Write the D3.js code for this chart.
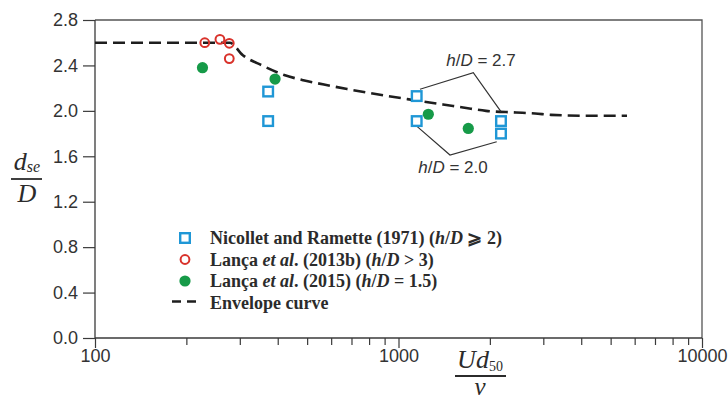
<!DOCTYPE html>
<html>
<head>
<meta charset="utf-8">
<script src="https://cdn.jsdelivr.net/npm/d3@7"></script>
<style>
  html, body { margin: 0; padding: 0; background: #fff; }
  svg { display: block; }
</style>
</head>
<body>
<svg id="chart" width="728" height="403"></svg>
<script>
// Nicollet and Ramette (1971): [Ud50/nu, dse/D]
const nicolletRe = [372, 372, 1148, 1148, 2176, 2176];
const nicolletD  = [2.17, 1.91, 2.13, 1.91, 1.91, 1.80];
// Lança et al. (2013b)
const lanca2013Re = [230, 258, 277, 277];
const lanca2013D  = [2.60, 2.63, 2.595, 2.46];
// Lança et al. (2015)
const lanca2015Re = [226, 392, 1254, 1698];
const lanca2015D  = [2.38, 2.28, 1.97, 1.845];
// Envelope curve
const envRe = [100, 278, 307, 355, 420, 481, 568, 677, 782, 1116, 1402, 1632, 1943, 2438, 2818, 3181, 4116, 5660];
const envD  = [2.60, 2.60, 2.49, 2.40, 2.316, 2.272, 2.232, 2.192, 2.162, 2.096, 2.056, 2.030, 2.000, 1.986, 1.977, 1.965, 1.957, 1.957];
// h/D bracket outlines
const bracket27Re = [1177, 1764, 2176];
const bracket27D  = [2.19, 2.336, 1.993];
const bracket20Re = [1153, 1478, 2107];
const bracket20D  = [1.861, 1.611, 1.728];
// Axis ticks
const yTicks = [0, 0.4, 0.8, 1.2, 1.6, 2.0, 2.4, 2.8];
const xMajor = [100, 1000, 10000];
const xMinor = [200, 300, 400, 500, 600, 700, 800, 900, 2000, 3000, 4000, 5000, 6000, 7000, 8000, 9000];

const svg = d3.select("#chart");
const L = 95, R = 702, T = 20, B = 338;
const x = d3.scaleLog().domain([100, 10000]).range([L, R]);
const y = d3.scaleLinear().domain([0, 2.8]).range([B, T]);

const axisColor = "#3a3a3a";
const tickFont = "'Liberation Sans', Arial, sans-serif";

// Frame (top and right)
svg.append("path")
  .attr("d", d3.line()([[x(100), y(2.8)], [x(10000), y(2.8)], [x(10000), y(0)]]))
  .attr("fill", "none").attr("stroke", "#555").attr("stroke-width", 1.3);

// Y axis
const yAxis = svg.append("g").attr("transform", `translate(${L},0)`)
  .call(d3.axisLeft(y).tickValues(yTicks).tickFormat(d3.format(".1f")).tickSize(12).tickPadding(5));
yAxis.selectAll("text").attr("font-family", tickFont).attr("font-size", 18).attr("fill", "#333");

// X axis
const xAxis = svg.append("g").attr("transform", `translate(0,${B})`)
  .call(d3.axisBottom(x).tickValues(xMajor.concat(xMinor))
    .tickFormat(d => xMajor.includes(d) ? d3.format("d")(d) : "").tickSize(10).tickPadding(1));
xAxis.selectAll(".tick").filter(d => !xMajor.includes(d)).select("line").attr("y2", 7);
xAxis.selectAll("text").attr("font-family", tickFont).attr("font-size", 18).attr("fill", "#333");

[yAxis, xAxis].forEach(a => {
  a.select(".domain").attr("stroke", axisColor).attr("stroke-width", 1.3);
  a.selectAll(".tick line").attr("stroke", axisColor).attr("stroke-width", 1.2);
});
yAxis.select(".domain").attr("d", `M0,${B}V${T}`);
xAxis.select(".domain").attr("d", `M${L},0H${R}`);

// Envelope curve
const envPts = envRe.map((r, i) => [x(r), y(envD[i])]);
svg.append("path")
  .attr("d", d3.line().curve(d3.curveMonotoneX)(envPts))
  .attr("fill", "none").attr("stroke", "#1e1e1e").attr("stroke-width", 2.6)
  .attr("stroke-dasharray", "12,6");

// Bracket outlines
[[bracket27Re, bracket27D], [bracket20Re, bracket20D]].forEach(([rs, ds]) => {
  svg.append("path")
    .attr("d", d3.line()(rs.map((r, i) => [x(r), y(ds[i])])))
    .attr("fill", "none").attr("stroke", "#333").attr("stroke-width", 1.2);
});

// Bracket labels
const annot = [
  { re: 1870, d: 2.395, val: "2.7" },
  { re: 1512, d: 1.455, val: "2.0" }
];
annot.forEach(a => {
  const t = svg.append("text").attr("x", x(a.re)).attr("y", y(a.d))
    .attr("text-anchor", "middle").attr("font-family", tickFont)
    .attr("font-size", 17).attr("fill", "#333");
  t.append("tspan").attr("font-style", "italic").text("h");
  t.append("tspan").text("/");
  t.append("tspan").attr("font-style", "italic").text("D");
  t.append("tspan").text(" = " + a.val);
});

const blue = "#1f97d6", red = "#d9322b", green = "#169a48";

// Nicollet and Ramette squares
svg.append("g").selectAll("rect").data(nicolletRe).join("rect")
  .attr("x", (d, i) => x(d) - 4.8).attr("y", (d, i) => y(nicolletD[i]) - 4.8)
  .attr("width", 9.6).attr("height", 9.6)
  .attr("fill", "#fff").attr("stroke", blue).attr("stroke-width", 2.4);

// Lança 2013b open circles
svg.append("g").selectAll("circle").data(lanca2013Re).join("circle")
  .attr("cx", d => x(d)).attr("cy", (d, i) => y(lanca2013D[i])).attr("r", 4.4)
  .attr("fill", "none").attr("stroke", red).attr("stroke-width", 2);

// Lança 2015 filled circles
svg.append("g").selectAll("circle").data(lanca2015Re).join("circle")
  .attr("cx", d => x(d)).attr("cy", (d, i) => y(lanca2015D[i])).attr("r", 5.6)
  .attr("fill", green);

// Legend
const lg = svg.append("g").attr("transform", "translate(185,238)");
const serif = "'Liberation Serif', 'Times New Roman', serif";
const rows = [
  [["Nicollet and Ramette (1971) (", ""], ["h", "italic"], ["/", ""], ["D", "italic"], [" \u2A7E 2)", ""]],
  [["Lança ", ""], ["et al", "italic"], [". (2013b) (", ""], ["h", "italic"], ["/", ""], ["D", "italic"], [" > 3)", ""]],
  [["Lança ", ""], ["et al", "italic"], [". (2015) (", ""], ["h", "italic"], ["/", ""], ["D", "italic"], [" = 1.5)", ""]],
  [["Envelope curve", ""]]
];
const rowH = 21.5;
rows.forEach((parts, i) => {
  const t = lg.append("text").attr("x", 25).attr("y", i * rowH + 6)
    .attr("font-family", serif).attr("font-weight", "bold").attr("font-size", 18).attr("fill", "#2b2b2b");
  parts.forEach(([s, st]) => {
    const sp = t.append("tspan").text(s);
    if (st) sp.attr("font-style", st);
  });
});
lg.append("rect").attr("x", -4.8).attr("y", -4.8).attr("width", 9.6).attr("height", 9.6)
  .attr("fill", "#fff").attr("stroke", blue).attr("stroke-width", 2.4);
lg.append("circle").attr("cx", 0).attr("cy", rowH).attr("r", 4.4)
  .attr("fill", "none").attr("stroke", red).attr("stroke-width", 2);
lg.append("circle").attr("cx", 0).attr("cy", 2 * rowH).attr("r", 5.6).attr("fill", green);
lg.append("line").attr("x1", -13).attr("x2", 12).attr("y1", 3 * rowH - 1).attr("y2", 3 * rowH - 1)
  .attr("stroke", "#1e1e1e").attr("stroke-width", 2.6).attr("stroke-dasharray", "9,6");

// Y axis title: d_se / D
const ytit = svg.append("g").attr("font-family", serif).attr("font-style", "italic").attr("fill", "#2b2b2b");
const dse = ytit.append("text").attr("x", 27).attr("y", 170).attr("text-anchor", "middle").attr("font-size", 26);
dse.append("tspan").text("d");
dse.append("tspan").attr("font-size", 16).attr("dy", 2).text("se");
ytit.append("line").attr("x1", 11).attr("x2", 42).attr("y1", 179).attr("y2", 179)
  .attr("stroke", "#2b2b2b").attr("stroke-width", 1.8);
ytit.append("text").attr("x", 27).attr("y", 202).attr("text-anchor", "middle").attr("font-size", 26).text("D");

// X axis title: U d50 / nu
const xtit = svg.append("g").attr("font-family", serif).attr("font-style", "italic").attr("fill", "#2b2b2b");
const ud = xtit.append("text").attr("x", 480).attr("y", 368).attr("text-anchor", "middle").attr("font-size", 26);
ud.append("tspan").text("Ud");
ud.append("tspan").attr("font-size", 14).attr("font-style", "normal").attr("dy", 3).text("50");
xtit.append("line").attr("x1", 455).attr("x2", 506).attr("y1", 376).attr("y2", 376)
  .attr("stroke", "#2b2b2b").attr("stroke-width", 1.8);
xtit.append("text").attr("x", 480).attr("y", 395).attr("text-anchor", "middle").attr("font-size", 25).text("ν");
</script>
</body>
</html>
